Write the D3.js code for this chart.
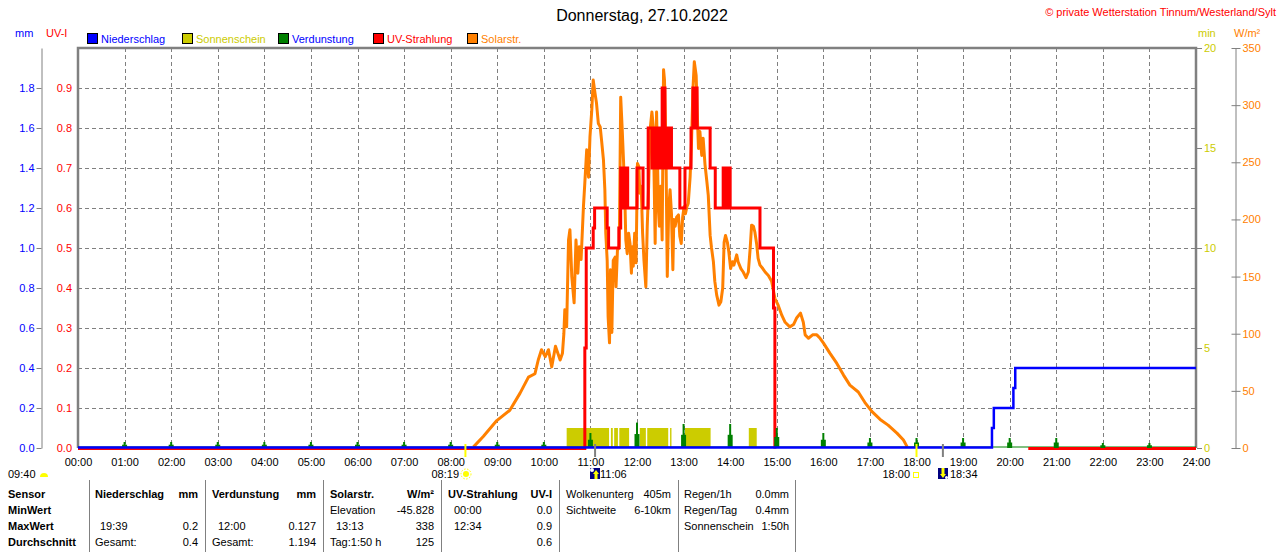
<!DOCTYPE html>
<html><head><meta charset="utf-8">
<script src="https://cdn.jsdelivr.net/npm/d3@7"></script>
<style>
body{margin:0;background:#fff;}
svg{display:block;font-family:"Liberation Sans",Arial,sans-serif;font-size:11px;}
</style></head><body>
<svg id="c" width="1280" height="552"></svg>
<script>
// ---------- data ----------
const hourTicks = d3.range(0, 25);
const hourLabels = hourTicks.map(h => String(h).padStart(2, '0') + ':00');
const mmTicks = [0, 0.2, 0.4, 0.6, 0.8, 1.0, 1.2, 1.4, 1.6, 1.8];
const uvTicks = [0, 0.1, 0.2, 0.3, 0.4, 0.5, 0.6, 0.7, 0.8, 0.9];
const minTicks = [0, 5, 10, 15, 20];
const wTicks = [0, 50, 100, 150, 200, 250, 300, 350];

// Solarstrahlung (W/m²)
const solarHours = [8.49,8.70,8.99,9.27,9.49,9.67,9.81,9.88,9.95,10.03,10.10,10.17,10.25,10.35,10.40,10.43,10.45,10.49,10.53,10.56,10.60,10.65,10.69,10.73,10.76,10.80,10.85,10.88,10.92,10.96,10.99,11.03,11.06,11.10,11.13,11.17,
  11.21,11.24,11.28,11.31,11.33,11.36,11.38,11.41,11.43,11.46,11.49,11.53,11.55,11.58,11.62,11.65,11.68,11.71,11.74,11.76,11.79,11.82,11.85,11.88,11.90,11.92,11.95,11.98,12.01,12.04,12.06,12.09,12.12,12.15,12.19,12.22,12.25,12.28,12.32,12.35,12.39,12.42,12.46,12.48,12.51,12.54,12.57,12.59,12.62,12.65,12.68,12.71,12.74,12.77,12.79,12.82,12.85,12.89,12.92,12.95,12.98,13.01,13.04,13.07,13.10,13.14,13.17,13.20,13.23,
  13.27,13.30,13.32,13.35,13.39,13.42,13.46,13.50,13.53,13.57,13.60,13.64,13.67,13.71,13.76,13.80,13.84,13.87,13.90,13.94,13.97,14.01,14.05,14.08,14.14,14.17,14.23,14.28,14.34,14.39,14.43,14.46,14.50,14.53,14.57,14.60,14.64,14.70,14.75,14.82,14.89,14.96,15.03,15.11,15.18,15.28,15.36,15.43,15.51,15.57,15.61,15.68,15.77,15.86,15.93,16.00,16.14,16.29,16.43,16.57,16.75,16.89,17.04,17.22,17.39,17.58,17.72,17.80];
const solarWm2 = [1,10,24,33,48,62,65,77,86,80,86,71,89,77,83,100,121,106,182,191,150,127,182,153,176,165,211,232,261,237,272,296,322,310,302,284,
  281,269,252,226,188,164,115,92,156,101,164,167,141,173,176,307,281,252,217,182,170,188,179,153,176,159,188,162,249,246,223,229,188,164,141,194,229,278,294,281,179,294,208,194,229,182,331,322,267,150,208,226,205,156,200,194,202,204,185,179,202,211,205,211,214,237,267,313,338,
  326,285,262,277,256,271,248,233,221,186,175,163,146,134,125,128,140,180,186,180,172,157,163,160,169,163,157,154,149,154,175,195,194,189,178,166,160,157,154,151,146,131,125,116,110,106,108,114,118,110,99,96,99,99,96,92,83,74,64,55,49,40,32,25,20,13,7,1];

// UV-Strahlung (UV-I), step values
const uvHours = [0,10.88,10.91,11.06,11.09,11.36,11.39,11.61,11.65,11.68,11.70,11.73,11.76,11.80,12.00,12.13,12.24,12.32,12.35,12.39,12.42,12.45,12.48,12.52,12.54,12.60,12.64,12.68,12.71,12.74,12.92,13.03,13.16,13.20,13.25,13.27,13.29,13.57,13.68,13.85,13.89,13.92,13.95,13.97,14.00,14.64,14.93,14.96,15.00,20.40,24];
const uvValues = [0,0.25,0.5,0.55,0.6,0.55,0.5,0.55,0.7,0.6,0.7,0.6,0.7,0.6,0.7,0.6,0.8,0.7,0.8,0.7,0.8,0.7,0.8,0.7,0.9,0.7,0.8,0.7,0.8,0.7,0.6,0.7,0.8,0.9,0.8,0.9,0.8,0.7,0.6,0.7,0.6,0.7,0.6,0.7,0.6,0.5,0.35,0,null,0,0];

// Niederschlag (mm, kumuliert)
const rainHours = [0, 19.62, 19.66, 20.08, 20.12, 24];
const rainMm = [0, 0.1, 0.2, 0.3, 0.4, 0.4];

// Verdunstung (mm pro Stunde)
const evapHours = d3.range(1, 24);
const evapMm = [0.03,0.03,0.03,0.03,0.03,0.03,0.03,0.03,0.03,0.03,0.075,0.127,0.12,0.12,0.1,0.075,0.05,0.05,0.05,0.05,0.05,0.025,0.025];

// Sonnenschein (min)
const sunStart = [10.49, 11.44, 11.51, 11.62, 12.06, 12.22, 12.71, 13.03, 14.40];
const sunEnd   = [11.40, 11.48, 11.59, 11.83, 12.19, 12.67, 12.74, 13.58, 14.57];
const sunMin = [1, 1, 1, 1, 1, 1, 1, 1, 1];

const legendNames = ['Niederschlag', 'Sonnenschein', 'Verdunstung', 'UV-Strahlung', 'Solarstr.'];
const legendBox = ['#0000ff', '#cccc00', '#008000', '#ff0000', '#ff8000'];
const legendText = ['#0000ff', '#cccc00', '#0000ff', '#ff0000', '#ff8000'];

const tableRowLabels = ['Sensor', 'MinWert', 'MaxWert', 'Durchschnitt'];

// ---------- drawing ----------
const svg = d3.select('#c');
const X0 = 78, X1 = 1196, Y0 = 48, Y1 = 448;
const GRAY = '#808080';
const x = d3.scaleLinear().domain([0, 24]).range([X0, X1]);
const yUV = d3.scaleLinear().domain([0, 1]).range([Y1, Y0]);
const yMM = d3.scaleLinear().domain([0, 2]).range([Y1, Y0]);
const yMin = d3.scaleLinear().domain([0, 20]).range([Y1, Y0]);
const yW = d3.scaleLinear().domain([0, 350]).range([Y1, Y0]);
const px = v => Math.round(v) + 0.5;

// title & copyright
svg.append('text').attr('x', 642).attr('y', 21).attr('text-anchor', 'middle')
  .attr('font-size', 16).attr('fill', '#000').text('Donnerstag, 27.10.2022');
svg.append('text').attr('x', 1276).attr('y', 16).attr('text-anchor', 'end')
  .attr('fill', '#ff0000').text('© private Wetterstation Tinnum/Westerland/Sylt');

// unit labels
svg.append('text').attr('x', 15).attr('y', 37).attr('fill', '#0000ff').text('mm');
svg.append('text').attr('x', 46).attr('y', 37).attr('fill', '#ff0000').text('UV-I');
svg.append('text').attr('x', 1198).attr('y', 37).attr('fill', '#cccc00').text('min');
svg.append('text').attr('x', 1234).attr('y', 37).attr('fill', '#ff8000').text('W/m²');

// legend
const legX = [87, 182, 278, 373, 467];
const lg = svg.append('g').selectAll('g').data(legendNames).join('g')
  .attr('transform', (d, i) => `translate(${legX[i]},33)`);
lg.append('rect').attr('x', 0.5).attr('y', 0.5).attr('width', 10).attr('height', 10)
  .attr('fill', (d, i) => legendBox[i]).attr('stroke', '#000');
lg.append('text').attr('x', 14).attr('y', 9.5).attr('fill', (d, i) => legendText[i]).text(d => d);

// grid
const grid = svg.append('g').attr('stroke', GRAY).attr('stroke-dasharray', '4,3').attr('stroke-width', 1);
grid.selectAll('line.v').data(hourTicks.slice(1, 24)).join('line')
  .attr('x1', d => px(x(d))).attr('x2', d => px(x(d))).attr('y1', Y0).attr('y2', Y1);
grid.selectAll('line.h').data(uvTicks.slice(1)).join('line')
  .attr('x1', X0).attr('x2', X1).attr('y1', d => px(yUV(d))).attr('y2', d => px(yUV(d)));

// frame
svg.append('path').attr('d', `M${X0},${Y1} V${Y0} H${X1} V${Y1}`)
  .attr('fill', 'none').attr('stroke', GRAY).attr('stroke-width', 2.5);

// left mm axis
const gMM = svg.append('g').attr('transform', 'translate(41.5,0)')
  .call(d3.axisLeft(yMM).tickValues(mmTicks).tickFormat(d3.format('.1f')).tickSize(5).tickSizeOuter(0).tickPadding(2));
gMM.select('.domain').attr('stroke', GRAY);
gMM.selectAll('.tick line').attr('stroke', GRAY);
gMM.selectAll('text').attr('fill', '#0000ff').attr('font-size', 11).attr('font-family', null);
gMM.selectAll('.tick').attr('transform', d => `translate(0,${px(yMM(d))})`);

// UV labels
const gUV = svg.append('g').attr('transform', `translate(${X0 - 1},0)`)
  .call(d3.axisLeft(yUV).tickValues(uvTicks).tickFormat(d3.format('.1f')).tickSize(0).tickPadding(5));
gUV.select('.domain').remove();
gUV.selectAll('text').attr('fill', '#ff0000').attr('font-size', 11).attr('font-family', null);

// right min axis
const gMin = svg.append('g').attr('transform', `translate(${X1 + 1},0)`)
  .call(d3.axisRight(yMin).tickValues(minTicks).tickSize(5).tickPadding(2));
gMin.select('.domain').remove();
gMin.selectAll('.tick line').attr('stroke', GRAY);
gMin.selectAll('text').attr('fill', '#cccc00').attr('font-size', 11).attr('font-family', null);

// right W/m² axis
const gW = svg.append('g').attr('transform', 'translate(1235.5,0)')
  .call(d3.axisRight(yW).tickValues(wTicks).tickSize(5).tickSizeOuter(0).tickPadding(2));
gW.select('.domain').attr('stroke', GRAY);
gW.selectAll('.tick line').attr('stroke', GRAY).attr('x1', -4);
gW.selectAll('text').attr('fill', '#ff8000').attr('font-size', 11).attr('font-family', null);

// x axis labels
const gX = svg.append('g').attr('transform', `translate(0,${Y1})`)
  .call(d3.axisBottom(x).tickValues(hourTicks).tickFormat((d, i) => hourLabels[i]).tickSize(0).tickPadding(10));
gX.select('.domain').remove();
gX.selectAll('text').attr('fill', '#000').attr('font-size', 11).attr('font-family', null);

// sunshine bars
svg.append('g').selectAll('rect').data(sunStart).join('rect')
  .attr('x', (d, i) => x(d)).attr('width', (d, i) => x(sunEnd[i]) - x(d))
  .attr('y', (d, i) => yMin(sunMin[i])).attr('height', (d, i) => Y1 - yMin(sunMin[i]))
  .attr('fill', '#cccc00');

// solar line
const solarPts = solarHours.map((h, i) => [h, solarWm2[i]]);
svg.append('path').datum(solarPts)
  .attr('d', d3.line().x(d => x(d[0])).y(d => yW(d[1])))
  .attr('fill', 'none').attr('stroke', '#ff8000').attr('stroke-width', 3).attr('stroke-linejoin', 'round');

// green baseline
svg.append('line').attr('x1', X0).attr('x2', X1).attr('y1', Y1 - 1).attr('y2', Y1 - 1)
  .attr('stroke', '#008000').attr('stroke-width', 1);

// UV step line
const uvPts = uvHours.map((h, i) => [h, uvValues[i]]);
svg.append('path').datum(uvPts)
  .attr('d', d3.line().defined(d => d[1] !== null).curve(d3.curveStepAfter)
    .x(d => x(d[0])).y(d => yUV(d[1]) + (d[1] === 0 ? 0.5 : 0)))
  .attr('fill', 'none').attr('stroke', '#ff0000').attr('stroke-width', 3);

// evaporation spikes
const ev = svg.append('g').attr('fill', '#008000');
evapHours.forEach((h, i) => {
  const cx = x(h), top = yMM(evapMm[i]), hgt = Y1 - top;
  ev.append('rect').attr('x', cx - 1).attr('y', top).attr('width', 2).attr('height', hgt);
  ev.append('rect').attr('x', cx - 2.5).attr('y', Y1 - hgt * 0.55).attr('width', 5).attr('height', hgt * 0.55);
});

// precipitation
const rainPts = rainHours.map((h, i) => [h, rainMm[i]]);
svg.append('path').datum(rainPts)
  .attr('d', d3.line().curve(d3.curveStepAfter).x(d => x(d[0])).y(d => yMM(d[1]) - (d[1] === 0 ? 0.5 : 0)))
  .attr('fill', 'none').attr('stroke', '#0000ff').attr('stroke-width', 2.5);

// sun / moon markers below axis
const markHours = [8 + 19 / 60, 11 + 6 / 60, 18, 18 + 34 / 60];
const markCol = ['#ffff00', GRAY, '#ffff00', GRAY];
svg.append('g').selectAll('line').data(markHours).join('line')
  .attr('x1', d => x(d)).attr('x2', d => x(d)).attr('y1', Y1 - 4).attr('y2', 457)
  .attr('stroke', (d, i) => markCol[i]).attr('stroke-width', 2);

const ann = svg.append('g');
ann.append('text').attr('x', 8).attr('y', 478).text('09:40');
ann.append('path').attr('d', 'M40,477 A4,4 0 0 1 48,477 Z').attr('fill', '#ffff00');
ann.append('text').attr('x', 459).attr('y', 478).attr('text-anchor', 'end').text('08:19');
ann.append('circle').attr('cx', 466).attr('cy', 474).attr('r', 3).attr('fill', '#ffff00');
ann.append('circle').attr('cx', 466).attr('cy', 474).attr('r', 5).attr('fill', 'none')
  .attr('stroke', '#ffff00').attr('stroke-dasharray', '1.5,1.5');
ann.append('rect').attr('x', 590).attr('y', 468).attr('width', 10).attr('height', 11).attr('fill', '#000080');
ann.append('circle').attr('cx', 592).attr('cy', 470).attr('r', 2).attr('fill', '#fff');
ann.append('path').attr('d', 'M596,470 L599,474 L597.5,474 L597.5,479 L594.5,479 L594.5,474 L593,474 Z').attr('fill', '#ffff00');
ann.append('text').attr('x', 600).attr('y', 478).text('11:06');
ann.append('text').attr('x', 910).attr('y', 478).attr('text-anchor', 'end').text('18:00');
ann.append('rect').attr('x', 913.5).attr('y', 472.5).attr('width', 5).attr('height', 5)
  .attr('fill', 'none').attr('stroke', '#ffff00');
ann.append('rect').attr('x', 938).attr('y', 468).attr('width', 10).attr('height', 11).attr('fill', '#000080');
ann.append('path').attr('d', 'M943,478 L946,474 L944.5,474 L944.5,468 L941.5,468 L941.5,474 L940,474 Z').attr('fill', '#ffff00');
ann.append('circle').attr('cx', 946.5).attr('cy', 477.5).attr('r', 1.5).attr('fill', '#fff');
ann.append('text').attr('x', 950).attr('y', 478).text('18:34');

// table
const tb = svg.append('g');
[89, 205, 323, 441, 559, 678, 795].forEach(cx => {
  tb.append('line').attr('x1', cx + 0.5).attr('x2', cx + 0.5).attr('y1', 480).attr('y2', 552)
    .attr('stroke', GRAY);
});
const rowY = [498, 514, 530, 546];
tableRowLabels.forEach((t, i) => tb.append('text').attr('x', 8).attr('y', rowY[i]).attr('font-weight', 'bold').text(t));
const cells = [
  [95, 0, 'Niederschlag', 'start', 1], [198, 0, 'mm', 'end', 1],
  [100, 2, '19:39', 'start', 0], [198, 2, '0.2', 'end', 0],
  [95, 3, 'Gesamt:', 'start', 0], [198, 3, '0.4', 'end', 0],
  [212, 0, 'Verdunstung', 'start', 1], [316, 0, 'mm', 'end', 1],
  [218, 2, '12:00', 'start', 0], [316, 2, '0.127', 'end', 0],
  [212, 3, 'Gesamt:', 'start', 0], [316, 3, '1.194', 'end', 0],
  [330, 0, 'Solarstr.', 'start', 1], [434, 0, 'W/m²', 'end', 1],
  [330, 1, 'Elevation', 'start', 0], [434, 1, '-45.828', 'end', 0],
  [336, 2, '13:13', 'start', 0], [434, 2, '338', 'end', 0],
  [330, 3, 'Tag:1:50 h', 'start', 0], [434, 3, '125', 'end', 0],
  [448, 0, 'UV-Strahlung', 'start', 1], [552, 0, 'UV-I', 'end', 1],
  [454, 1, '00:00', 'start', 0], [552, 1, '0.0', 'end', 0],
  [454, 2, '12:34', 'start', 0], [552, 2, '0.9', 'end', 0],
  [552, 3, '0.6', 'end', 0],
  [566, 0, 'Wolkenunterg', 'start', 0], [671, 0, '405m', 'end', 0],
  [566, 1, 'Sichtweite', 'start', 0], [671, 1, '6-10km', 'end', 0],
  [684, 0, 'Regen/1h', 'start', 0], [789, 0, '0.0mm', 'end', 0],
  [684, 1, 'Regen/Tag', 'start', 0], [789, 1, '0.4mm', 'end', 0],
  [684, 2, 'Sonnenschein', 'start', 0], [789, 2, '1:50h', 'end', 0]
];
cells.forEach(c => tb.append('text').attr('x', c[0]).attr('y', rowY[c[1]])
  .attr('text-anchor', c[3]).attr('font-weight', c[4] ? 'bold' : 'normal').text(c[2]));
</script>
</body></html>
